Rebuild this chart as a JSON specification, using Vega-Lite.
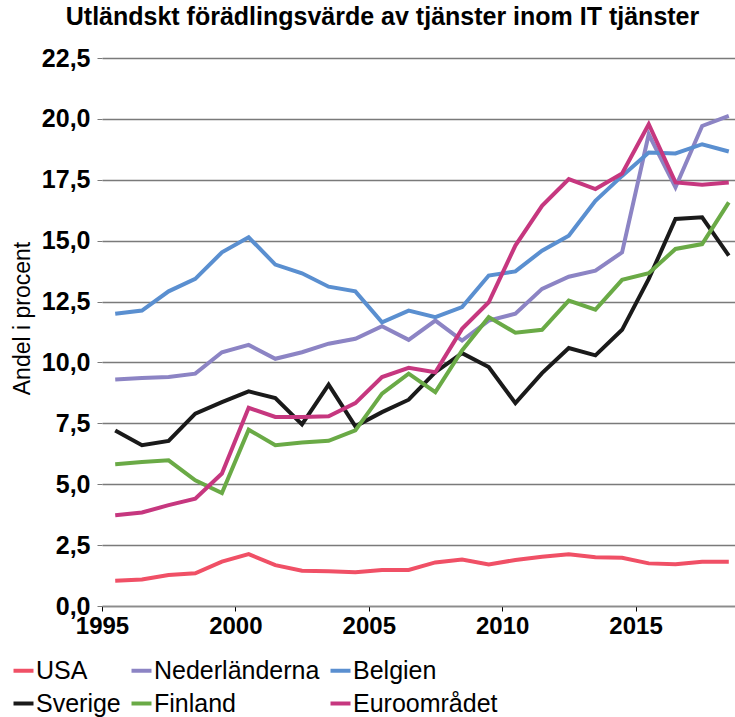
{
  "$schema": "https://vega.github.io/schema/vega-lite/v6.json",
  "autosize": {"type": "none"},
  "width": 633,
  "height": 548,
  "padding": {"left": 102, "top": 58, "right": 0, "bottom": 111},
  "background": "white",
  "title": {
    "text": "Utländskt förädlingsvärde av tjänster inom IT tjänster",
    "font": "Liberation Sans",
    "fontSize": 25,
    "fontWeight": "bold",
    "color": "#000000",
    "anchor": "middle",
    "frame": "group",
    "dx": -36,
    "offset": 16
  },
  "config": {
    "view": {"stroke": null},
    "font": "Liberation Sans"
  },
  "data": {
    "format": {"parse": {"ar": "utc:'%Y-%m-%d'"}},
    "values": [
      {"land": "USA", "ar": "1995-07-01", "varde": 1.04},
      {"land": "USA", "ar": "1996-07-01", "varde": 1.09},
      {"land": "USA", "ar": "1997-07-01", "varde": 1.27},
      {"land": "USA", "ar": "1998-07-01", "varde": 1.34},
      {"land": "USA", "ar": "1999-07-01", "varde": 1.82},
      {"land": "USA", "ar": "2000-07-01", "varde": 2.13},
      {"land": "USA", "ar": "2001-07-01", "varde": 1.68},
      {"land": "USA", "ar": "2002-07-01", "varde": 1.45},
      {"land": "USA", "ar": "2003-07-01", "varde": 1.43},
      {"land": "USA", "ar": "2004-07-01", "varde": 1.39},
      {"land": "USA", "ar": "2005-07-01", "varde": 1.48},
      {"land": "USA", "ar": "2006-07-01", "varde": 1.48},
      {"land": "USA", "ar": "2007-07-01", "varde": 1.79},
      {"land": "USA", "ar": "2008-07-01", "varde": 1.91},
      {"land": "USA", "ar": "2009-07-01", "varde": 1.71},
      {"land": "USA", "ar": "2010-07-01", "varde": 1.89},
      {"land": "USA", "ar": "2011-07-01", "varde": 2.02},
      {"land": "USA", "ar": "2012-07-01", "varde": 2.12},
      {"land": "USA", "ar": "2013-07-01", "varde": 2.0},
      {"land": "USA", "ar": "2014-07-01", "varde": 1.98},
      {"land": "USA", "ar": "2015-07-01", "varde": 1.75},
      {"land": "USA", "ar": "2016-07-01", "varde": 1.71},
      {"land": "USA", "ar": "2017-07-01", "varde": 1.82},
      {"land": "USA", "ar": "2018-07-01", "varde": 1.82},

      {"land": "Sverige", "ar": "1995-07-01", "varde": 7.21},
      {"land": "Sverige", "ar": "1996-07-01", "varde": 6.6},
      {"land": "Sverige", "ar": "1997-07-01", "varde": 6.78},
      {"land": "Sverige", "ar": "1998-07-01", "varde": 7.9},
      {"land": "Sverige", "ar": "1999-07-01", "varde": 8.37},
      {"land": "Sverige", "ar": "2000-07-01", "varde": 8.81},
      {"land": "Sverige", "ar": "2001-07-01", "varde": 8.54},
      {"land": "Sverige", "ar": "2002-07-01", "varde": 7.46},
      {"land": "Sverige", "ar": "2003-07-01", "varde": 9.09},
      {"land": "Sverige", "ar": "2004-07-01", "varde": 7.38},
      {"land": "Sverige", "ar": "2005-07-01", "varde": 7.96},
      {"land": "Sverige", "ar": "2006-07-01", "varde": 8.47},
      {"land": "Sverige", "ar": "2007-07-01", "varde": 9.6},
      {"land": "Sverige", "ar": "2008-07-01", "varde": 10.38},
      {"land": "Sverige", "ar": "2009-07-01", "varde": 9.81},
      {"land": "Sverige", "ar": "2010-07-01", "varde": 8.33},
      {"land": "Sverige", "ar": "2011-07-01", "varde": 9.56},
      {"land": "Sverige", "ar": "2012-07-01", "varde": 10.59},
      {"land": "Sverige", "ar": "2013-07-01", "varde": 10.29},
      {"land": "Sverige", "ar": "2014-07-01", "varde": 11.34},
      {"land": "Sverige", "ar": "2015-07-01", "varde": 13.43},
      {"land": "Sverige", "ar": "2016-07-01", "varde": 15.89},
      {"land": "Sverige", "ar": "2017-07-01", "varde": 15.96},
      {"land": "Sverige", "ar": "2018-07-01", "varde": 14.39},

      {"land": "Nederländerna", "ar": "1995-07-01", "varde": 9.3},
      {"land": "Nederländerna", "ar": "1996-07-01", "varde": 9.36},
      {"land": "Nederländerna", "ar": "1997-07-01", "varde": 9.4},
      {"land": "Nederländerna", "ar": "1998-07-01", "varde": 9.54},
      {"land": "Nederländerna", "ar": "1999-07-01", "varde": 10.42},
      {"land": "Nederländerna", "ar": "2000-07-01", "varde": 10.72},
      {"land": "Nederländerna", "ar": "2001-07-01", "varde": 10.15},
      {"land": "Nederländerna", "ar": "2002-07-01", "varde": 10.42},
      {"land": "Nederländerna", "ar": "2003-07-01", "varde": 10.77},
      {"land": "Nederländerna", "ar": "2004-07-01", "varde": 10.97},
      {"land": "Nederländerna", "ar": "2005-07-01", "varde": 11.49},
      {"land": "Nederländerna", "ar": "2006-07-01", "varde": 10.93},
      {"land": "Nederländerna", "ar": "2007-07-01", "varde": 11.72},
      {"land": "Nederländerna", "ar": "2008-07-01", "varde": 10.9},
      {"land": "Nederländerna", "ar": "2009-07-01", "varde": 11.72},
      {"land": "Nederländerna", "ar": "2010-07-01", "varde": 12.0},
      {"land": "Nederländerna", "ar": "2011-07-01", "varde": 13.02},
      {"land": "Nederländerna", "ar": "2012-07-01", "varde": 13.52},
      {"land": "Nederländerna", "ar": "2013-07-01", "varde": 13.77},
      {"land": "Nederländerna", "ar": "2014-07-01", "varde": 14.52},
      {"land": "Nederländerna", "ar": "2015-07-01", "varde": 19.37},
      {"land": "Nederländerna", "ar": "2016-07-01", "varde": 17.19},
      {"land": "Nederländerna", "ar": "2017-07-01", "varde": 19.71},
      {"land": "Nederländerna", "ar": "2018-07-01", "varde": 20.12},

      {"land": "Finland", "ar": "1995-07-01", "varde": 5.82},
      {"land": "Finland", "ar": "1996-07-01", "varde": 5.91},
      {"land": "Finland", "ar": "1997-07-01", "varde": 5.98},
      {"land": "Finland", "ar": "1998-07-01", "varde": 5.16},
      {"land": "Finland", "ar": "1999-07-01", "varde": 4.64},
      {"land": "Finland", "ar": "2000-07-01", "varde": 7.24},
      {"land": "Finland", "ar": "2001-07-01", "varde": 6.6},
      {"land": "Finland", "ar": "2002-07-01", "varde": 6.71},
      {"land": "Finland", "ar": "2003-07-01", "varde": 6.78},
      {"land": "Finland", "ar": "2004-07-01", "varde": 7.21},
      {"land": "Finland", "ar": "2005-07-01", "varde": 8.72},
      {"land": "Finland", "ar": "2006-07-01", "varde": 9.54},
      {"land": "Finland", "ar": "2007-07-01", "varde": 8.78},
      {"land": "Finland", "ar": "2008-07-01", "varde": 10.49},
      {"land": "Finland", "ar": "2009-07-01", "varde": 11.86},
      {"land": "Finland", "ar": "2010-07-01", "varde": 11.22},
      {"land": "Finland", "ar": "2011-07-01", "varde": 11.34},
      {"land": "Finland", "ar": "2012-07-01", "varde": 12.54},
      {"land": "Finland", "ar": "2013-07-01", "varde": 12.17},
      {"land": "Finland", "ar": "2014-07-01", "varde": 13.39},
      {"land": "Finland", "ar": "2015-07-01", "varde": 13.66},
      {"land": "Finland", "ar": "2016-07-01", "varde": 14.66},
      {"land": "Finland", "ar": "2017-07-01", "varde": 14.86},
      {"land": "Finland", "ar": "2018-07-01", "varde": 16.57},

      {"land": "Belgien", "ar": "1995-07-01", "varde": 12.0},
      {"land": "Belgien", "ar": "1996-07-01", "varde": 12.13},
      {"land": "Belgien", "ar": "1997-07-01", "varde": 12.92},
      {"land": "Belgien", "ar": "1998-07-01", "varde": 13.43},
      {"land": "Belgien", "ar": "1999-07-01", "varde": 14.52},
      {"land": "Belgien", "ar": "2000-07-01", "varde": 15.14},
      {"land": "Belgien", "ar": "2001-07-01", "varde": 14.02},
      {"land": "Belgien", "ar": "2002-07-01", "varde": 13.66},
      {"land": "Belgien", "ar": "2003-07-01", "varde": 13.11},
      {"land": "Belgien", "ar": "2004-07-01", "varde": 12.92},
      {"land": "Belgien", "ar": "2005-07-01", "varde": 11.65},
      {"land": "Belgien", "ar": "2006-07-01", "varde": 12.13},
      {"land": "Belgien", "ar": "2007-07-01", "varde": 11.86},
      {"land": "Belgien", "ar": "2008-07-01", "varde": 12.27},
      {"land": "Belgien", "ar": "2009-07-01", "varde": 13.57},
      {"land": "Belgien", "ar": "2010-07-01", "varde": 13.74},
      {"land": "Belgien", "ar": "2011-07-01", "varde": 14.59},
      {"land": "Belgien", "ar": "2012-07-01", "varde": 15.2},
      {"land": "Belgien", "ar": "2013-07-01", "varde": 16.64},
      {"land": "Belgien", "ar": "2014-07-01", "varde": 17.66},
      {"land": "Belgien", "ar": "2015-07-01", "varde": 18.62},
      {"land": "Belgien", "ar": "2016-07-01", "varde": 18.58},
      {"land": "Belgien", "ar": "2017-07-01", "varde": 18.96},
      {"land": "Belgien", "ar": "2018-07-01", "varde": 18.66},

      {"land": "Euroområdet", "ar": "1995-07-01", "varde": 3.73},
      {"land": "Euroområdet", "ar": "1996-07-01", "varde": 3.84},
      {"land": "Euroområdet", "ar": "1997-07-01", "varde": 4.14},
      {"land": "Euroområdet", "ar": "1998-07-01", "varde": 4.41},
      {"land": "Euroområdet", "ar": "1999-07-01", "varde": 5.44},
      {"land": "Euroområdet", "ar": "2000-07-01", "varde": 8.14},
      {"land": "Euroområdet", "ar": "2001-07-01", "varde": 7.76},
      {"land": "Euroområdet", "ar": "2002-07-01", "varde": 7.76},
      {"land": "Euroområdet", "ar": "2003-07-01", "varde": 7.79},
      {"land": "Euroområdet", "ar": "2004-07-01", "varde": 8.33},
      {"land": "Euroområdet", "ar": "2005-07-01", "varde": 9.4},
      {"land": "Euroområdet", "ar": "2006-07-01", "varde": 9.78},
      {"land": "Euroområdet", "ar": "2007-07-01", "varde": 9.6},
      {"land": "Euroområdet", "ar": "2008-07-01", "varde": 11.38},
      {"land": "Euroområdet", "ar": "2009-07-01", "varde": 12.47},
      {"land": "Euroområdet", "ar": "2010-07-01", "varde": 14.8},
      {"land": "Euroområdet", "ar": "2011-07-01", "varde": 16.43},
      {"land": "Euroområdet", "ar": "2012-07-01", "varde": 17.53},
      {"land": "Euroområdet", "ar": "2013-07-01", "varde": 17.12},
      {"land": "Euroområdet", "ar": "2014-07-01", "varde": 17.76},
      {"land": "Euroområdet", "ar": "2015-07-01", "varde": 19.78},
      {"land": "Euroområdet", "ar": "2016-07-01", "varde": 17.39},
      {"land": "Euroområdet", "ar": "2017-07-01", "varde": 17.3},
      {"land": "Euroområdet", "ar": "2018-07-01", "varde": 17.39}
    ]
  },
  "mark": {"type": "line", "strokeWidth": 4, "strokeJoin": "miter", "clip": true},
  "encoding": {
    "x": {
      "field": "ar",
      "type": "temporal",
      "scale": {
        "type": "utc",
        "domain": [
          {"year": 1995, "month": "jan", "date": 1, "utc": true},
          {"year": 2018, "month": "sep", "date": 24, "utc": true}
        ]
      },
      "axis": {
        "title": null,
        "values": [
          {"year": 1995, "month": "jan", "date": 1, "utc": true},
          {"year": 2000, "month": "jan", "date": 1, "utc": true},
          {"year": 2005, "month": "jan", "date": 1, "utc": true},
          {"year": 2010, "month": "jan", "date": 1, "utc": true},
          {"year": 2015, "month": "jan", "date": 1, "utc": true}
        ],
        "format": "%Y",
        "grid": false,
        "domainColor": "#8c8c8c",
        "domainWidth": 1.5,
        "tickColor": "#000000",
        "tickSize": 5,
        "tickWidth": 1,
        "labelFont": "Liberation Sans",
        "labelFontSize": 24,
        "labelFontWeight": "bold",
        "labelColor": "#000000",
        "labelPadding": 3,
        "labelFlush": false,
        "labelOverlap": false
      }
    },
    "y": {
      "field": "varde",
      "type": "quantitative",
      "scale": {"domain": [0, 22.5], "nice": false},
      "axis": {
        "title": "Andel i procent",
        "titleFont": "Liberation Sans",
        "titleFontSize": 23,
        "titleFontWeight": "normal",
        "titleColor": "#000000",
        "titleAngle": -90,
        "titleAlign": "center",
        "titleBaseline": "alphabetic",
        "titleX": -73,
        "titleY": 260,
        "values": [0, 2.5, 5, 7.5, 10, 12.5, 15, 17.5, 20, 22.5],
        "labelExpr": "replace(format(datum.value, '.1f'), '.', ',')",
        "domain": false,
        "grid": true,
        "gridColor": "#7a7a7a",
        "gridWidth": 1.3,
        "tickColor": "#7a7a7a",
        "tickSize": 5,
        "labelFont": "Liberation Sans",
        "labelFontSize": 25,
        "labelFontWeight": "bold",
        "labelColor": "#000000",
        "labelPadding": 7,
        "labelOverlap": false
      }
    },
    "color": {
      "field": "land",
      "type": "nominal",
      "scale": {
        "domain": ["USA", "Nederländerna", "Belgien", "Sverige", "Finland", "Euroområdet"],
        "range": ["#f05066", "#8c84c4", "#5a8fd0", "#1a1a1a", "#6aaa46", "#c6377f"]
      },
      "legend": {
        "title": null,
        "orient": "none",
        "legendX": -91,
        "legendY": 600,
        "direction": "horizontal",
        "columns": 3,
        "columnPadding": 2,
        "rowPadding": 7,
        "symbolType": "stroke",
        "symbolSize": 400,
        "symbolStrokeWidth": 4,
        "labelFont": "Liberation Sans",
        "labelFontSize": 25,
        "labelColor": "#000000",
        "labelOffset": 0,
        "labelLimit": 300
      }
    }
  }
}
